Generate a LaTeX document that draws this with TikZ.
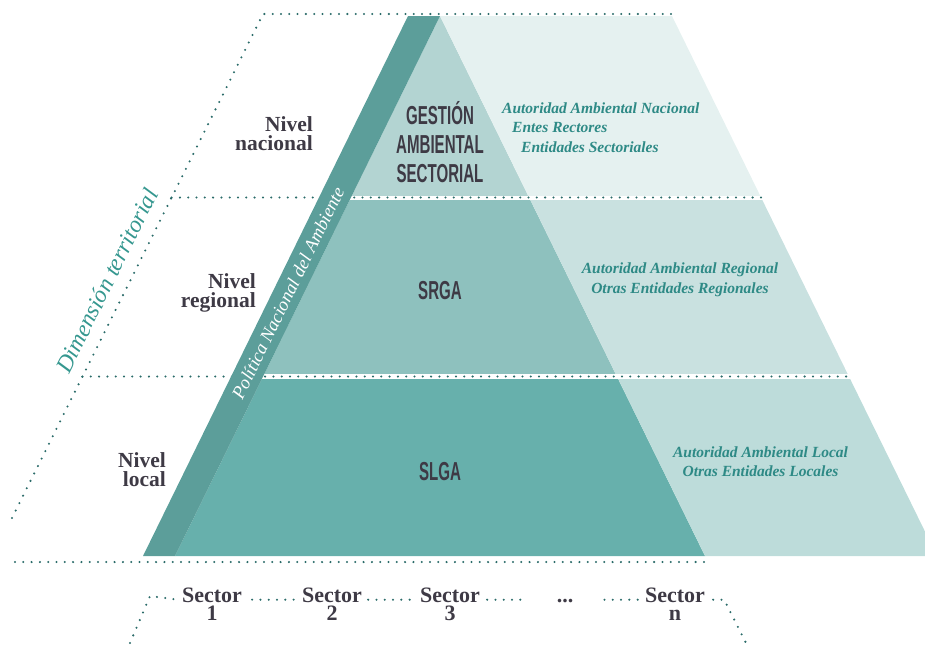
\documentclass[tikz,border=0pt]{standalone}
\usepackage{fontspec}
\setmainfont{Liberation Serif}
\newfontfamily\condsans[FakeStretch=0.58]{Liberation Sans}
\usetikzlibrary{calc}
\definecolor{stripc}{HTML}{5C9E9A}
\definecolor{tAin}{HTML}{B3D4D2}
\definecolor{tAout}{HTML}{E5F1F0}
\definecolor{tBin}{HTML}{8EC1BE}
\definecolor{tBout}{HTML}{C9E1E0}
\definecolor{tCin}{HTML}{67B0AC}
\definecolor{tCout}{HTML}{BDDCDA}
\definecolor{dotc}{HTML}{2A6B69}
\definecolor{darktxt}{HTML}{3E3A45}
\definecolor{tealtxt}{HTML}{2E8A86}
\definecolor{dimc}{HTML}{35978F}
\begin{document}
\begin{tikzpicture}[x=1pt,y=-1pt,
  dotline/.style={draw=dotc, line width=2.3pt, line cap=round, dash pattern=on 0pt off 8.3pt},
  nivel/.style={inner sep=0pt, anchor=base east, text=darktxt, font=\bfseries\fontsize{21.5}{22}\selectfont},
  entity/.style={inner sep=0pt, text=tealtxt, font=\bfseries\itshape\fontsize{15.5}{16}\selectfont},
  tierlabel/.style={inner sep=0pt, anchor=base, text=darktxt, font=\condsans\bfseries\fontsize{26}{28}\selectfont},
  sector/.style={inner sep=0pt, anchor=base, text=darktxt, font=\bfseries\fontsize{22}{22}\selectfont},
]
\useasboundingbox (0,0) rectangle (925,648);

% tiers
\begin{scope}
  \clip (0,16) rectangle (925,195);
  \fill[tAin] (440,16) -- (705,556) -- (175,556) -- cycle;
  \fill[tAout] (440,16) -- (672,16) -- (937,556) -- (705,556) -- cycle;
\end{scope}
\begin{scope}
  \clip (0,200) rectangle (925,373);
  \fill[tBin] (440,16) -- (705,556) -- (175,556) -- cycle;
  \fill[tBout] (440,16) -- (672,16) -- (937,556) -- (705,556) -- cycle;
\end{scope}
\begin{scope}
  \clip (0,379) rectangle (925,556);
  \fill[tCin] (440,16) -- (705,556) -- (175,556) -- cycle;
  \fill[tCout] (440,16) -- (672,16) -- (937,556) -- (705,556) -- cycle;
\end{scope}

% dotted frame lines
\draw[dotline] (12,518) -- (263,14) -- (672,14);
\draw[dotline] (171.6,197.5) -- (761,197.5);
\draw[dotline] (82.5,376.5) -- (849,376.5);
\draw[dotline] (15,562) -- (705,562);

% policy strip
\fill[stripc] (408,16) -- (440,16) -- (175,556) -- (143,556) -- cycle;

% tier labels
\node[tierlabel] (gasA) at (440,124) {GESTIÓN};
\node[tierlabel] (gasB) at (440,153) {AMBIENTAL};
\node[tierlabel] (gasC) at (440,182) {SECTORIAL};
\node[tierlabel] (srga) at (440,299) {SRGA};
\node[tierlabel] (slga) at (440,480) {SLGA};

% level labels
\node[nivel] (nnA) at (313,131) {Nivel};
\node[nivel] (nnB) at (313,150) {nacional};
\node[nivel] (nrA) at (256,288) {Nivel};
\node[nivel] (nrB) at (256,307) {regional};
\node[nivel] (nlA) at (166,467) {Nivel};
\node[nivel] (nlB) at (166,486) {local};

% entities
\node[entity, anchor=base west] (eA1) at (502,113) {Autoridad Ambiental Nacional};
\node[entity, anchor=base west] (eA2) at (512,132) {Entes Rectores};
\node[entity, anchor=base west] (eA3) at (521,152) {Entidades Sectoriales};
\node[entity, anchor=base] (eB1) at (680,273) {Autoridad Ambiental Regional};
\node[entity, anchor=base] (eB2) at (680,293) {Otras Entidades Regionales};
\node[entity, anchor=base] (eC1) at (760.5,457) {Autoridad Ambiental Local};
\node[entity, anchor=base] (eC2) at (760.5,476) {Otras Entidades Locales};

% rotated labels
\node[rotate=63.5, anchor=base, inner sep=0pt, text=dimc, font=\itshape\fontsize{23.5}{24}\selectfont] (dim) at (114,284) {Dimensión territorial};
\node[rotate=63.9, inner sep=0pt, text=white, font=\itshape\fontsize{18.5}{19}\selectfont] (pna) at (288,293) {Política Nacional del Ambiente};

% sectors
\node[sector] (sA) at (212,602) {Sector};
\node[sector] (nA) at (212,620) {1};
\node[sector] (sB) at (332,602) {Sector};
\node[sector] (nB) at (332,620) {2};
\node[sector] (sC) at (450,602) {Sector};
\node[sector] (nC) at (450,620) {3};
\node[sector] (ell) at (565,602) {...};
\node[sector] (sN) at (675,602) {Sector};
\node[sector] (nN) at (675,620) {n};

\coordinate (blA) at (130,643);
\coordinate (blB) at (150,596);
\coordinate (brA) at (746,643);
\draw[dotline] (blA) -- (blB) -- ([xshift=-4pt]sA.mid west);
\draw[dotline] ([xshift=10pt]sA.mid east) -- ([xshift=-7pt]sB.mid west);
\draw[dotline] ([xshift=6pt]sB.mid east) -- ([xshift=-7pt]sC.mid west);
\draw[dotline] ([xshift=7pt]sC.mid east) -- ([xshift=-29pt]ell.mid west);
\draw[dotline] ([xshift=31pt]ell.mid east) -- ([xshift=-7pt]sN.mid west);
\draw[dotline] ([xshift=8pt]sN.mid east) -- ++(11,0) -- (brA);
\end{tikzpicture}
\end{document}
